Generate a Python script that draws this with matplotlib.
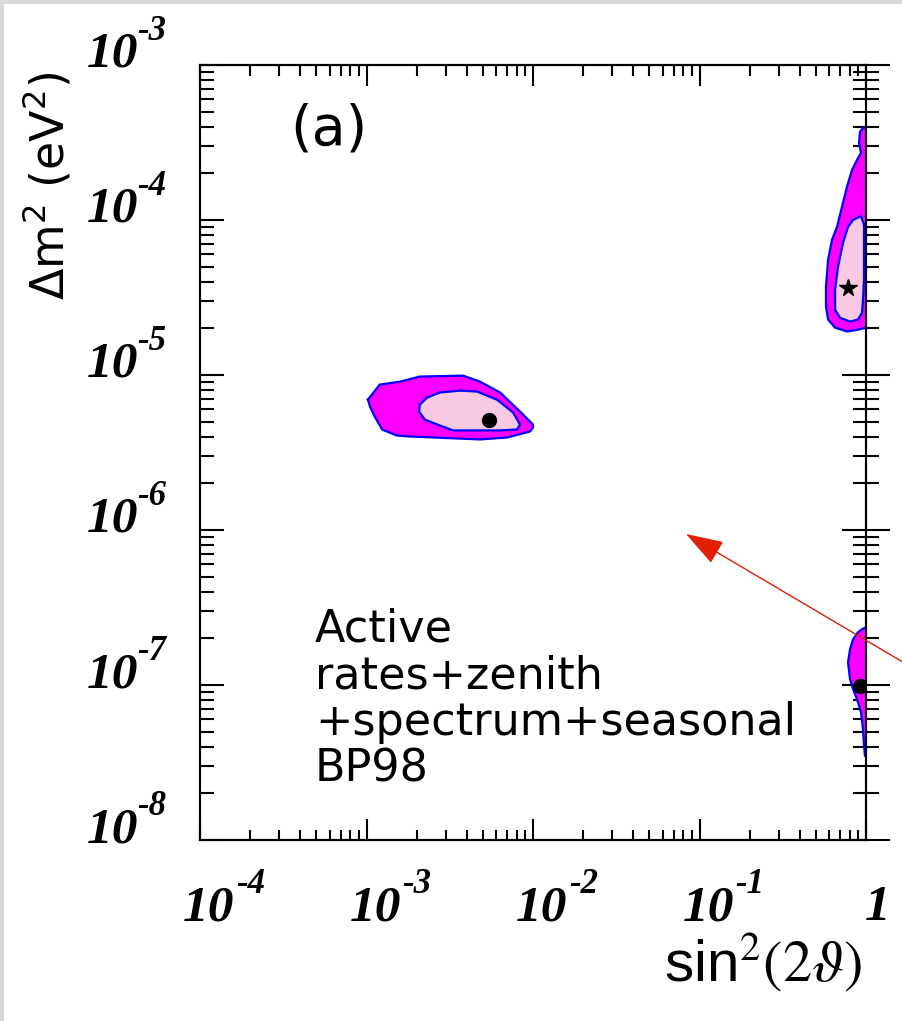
import numpy as np
import matplotlib
matplotlib.use('Agg')
import matplotlib.pyplot as plt
from matplotlib.patches import Rectangle

# ---- data ----
# SMA region: outer (magenta) and inner (pink) contours
sma_outer_x = [1.02e-3, 1.20e-3, 1.59e-3, 2.09e-3, 3.80e-3, 4.81e-3, 6.34e-3, 8.36e-3, 1.00e-2,
               1.00e-2, 9.59e-3, 6.98e-3, 4.81e-3, 1.82e-3, 1.52e-3, 1.24e-3, 1.12e-3, 1.05e-3]
sma_outer_y = [6.93e-6, 8.67e-6, 9.06e-6, 9.77e-6, 9.91e-6, 9.06e-6, 7.71e-6, 5.81e-6, 4.79e-6,
               4.58e-6, 4.32e-6, 3.95e-6, 3.84e-6, 4.01e-6, 4.07e-6, 4.45e-6, 5.40e-6, 6.25e-6]
sma_inner_x = [2.09e-3, 2.31e-3, 2.76e-3, 3.65e-3, 4.61e-3, 6.08e-3, 7.59e-3, 8.36e-3,
               8.02e-3, 6.34e-3, 4.61e-3, 3.31e-3, 2.76e-3, 2.24e-3, 2.07e-3]
sma_inner_y = [6.44e-6, 7.14e-6, 7.71e-6, 7.93e-6, 7.82e-6, 6.93e-6, 5.73e-6, 4.79e-6,
               4.45e-6, 4.39e-6, 4.39e-6, 4.39e-6, 4.72e-6, 5.16e-6, 5.81e-6]
sma_best = (5.45e-3, 5.16e-6)

# LMA region (touches sin^2 = 1)
lma_outer_x = [1.0, 0.959, 0.920, 0.908, 0.933, 0.883, 0.824, 0.769, 0.718, 0.670, 0.625,
               0.592, 0.575, 0.575, 0.592, 0.652, 0.769, 0.895, 1.0]
lma_outer_y = [3.93e-4, 3.93e-4, 3.70e-4, 3.14e-4, 2.71e-4, 2.44e-4, 2.10e-4, 1.64e-4, 1.22e-4,
               9.03e-5, 7.45e-5, 5.55e-5, 3.72e-5, 2.76e-5, 2.28e-5, 2.02e-5, 1.91e-5, 1.96e-5, 2.02e-5]
lma_inner_x = [0.973, 0.933, 0.836, 0.780, 0.728, 0.679, 0.652, 0.652, 0.698, 0.802,
               0.895, 0.946, 0.959, 0.973, 0.973]
lma_inner_y = [9.31e-5, 1.06e-4, 1.00e-4, 9.03e-5, 7.13e-5, 4.99e-5, 3.55e-5, 2.64e-5, 2.34e-5,
               2.21e-5, 2.28e-5, 2.52e-5, 3.06e-5, 4.12e-5, 6.43e-5]
lma_best = (0.78, 3.66e-5)

# LOW region
low_outer_x = [1.0, 0.946, 0.895, 0.836, 0.802, 0.780, 0.802, 0.836, 0.859, 0.895,
               0.933, 0.959, 0.973, 0.986, 1.0]
low_outer_y = [2.36e-7, 2.29e-7, 2.19e-7, 1.97e-7, 1.70e-7, 1.40e-7, 1.09e-7, 9.40e-8, 8.73e-8,
               7.74e-8, 6.68e-8, 5.19e-8, 4.04e-8, 3.48e-8, 3.48e-8]
low_best = (0.92, 9.8e-8)

x_ticks = [1e-4, 1e-3, 1e-2, 1e-1, 1]
x_exps = ['-4', '-3', '-2', '-1', None]
y_ticks = [1e-8, 1e-7, 1e-6, 1e-5, 1e-4, 1e-3]
y_exps = ['-8', '-7', '-6', '-5', '-4', '-3']
info_lines = ['Active', 'rates+zenith', '+spectrum+seasonal', 'BP98']

MAG = '#ff00ff'
PINK = '#f9c8e2'
BLUE = '#0000ff'

W, H = 902, 1021
PT = 100 / 72.0  # px per point

fig = plt.figure(figsize=(W / 100, H / 100), dpi=100)
fig.patch.set_facecolor('#d8d8d8')
fig.add_artist(Rectangle((4 / W, 0), 1, 1 - 4 / H, transform=fig.transFigure,
                         facecolor='white', edgecolor='none', zorder=-10))

rect = [200 / W, (H - 840) / H, 666 / W, 775 / H]
ax2 = fig.add_axes(rect)   # only for right-hand ticks (behind the fills)
ax = fig.add_axes(rect)
ax.set_zorder(2)
ax2.set_zorder(1)
ax.patch.set_visible(False)

for a in (ax, ax2):
    a.set_xscale('log')
    a.set_yscale('log')
    a.set_xlim(1e-4, 1)
    a.set_ylim(1e-8, 1e-3)
    for s in a.spines.values():
        s.set_linewidth(1.5)

ax2.tick_params(axis='x', which='both', bottom=False, top=False, labelbottom=False)
ax2.tick_params(axis='y', which='both', left=False, right=True, labelleft=False,
                direction='inout', width=1.5)
ax2.tick_params(axis='y', which='major', length=48 / PT)
ax2.tick_params(axis='y', which='minor', length=26 / PT)

ax.tick_params(axis='x', which='both', direction='in', top=True, bottom=True,
               labelbottom=False, width=1.5)
ax.tick_params(axis='x', which='major', length=21 / PT)
ax.tick_params(axis='x', which='minor', length=10.5 / PT)
ax.tick_params(axis='y', which='both', direction='in', left=True, right=False,
               labelleft=False, width=1.5)
ax.tick_params(axis='y', which='major', length=24 / PT)
ax.tick_params(axis='y', which='minor', length=14 / PT)

# contours
ax.fill(sma_outer_x, sma_outer_y, color=MAG, lw=0)
ax.plot(sma_outer_x + sma_outer_x[:1], sma_outer_y + sma_outer_y[:1], color=BLUE, lw=1.6)
ax.fill(sma_inner_x, sma_inner_y, color=PINK, lw=0)
ax.plot(sma_inner_x + sma_inner_x[:1], sma_inner_y + sma_inner_y[:1], color=BLUE, lw=1.6)

ax.fill(lma_outer_x, lma_outer_y, color=MAG, lw=0)
ax.plot(lma_outer_x, lma_outer_y, color=BLUE, lw=1.6)
ax.fill(lma_inner_x, lma_inner_y, color=PINK, lw=0)
ax.plot(lma_inner_x + lma_inner_x[:1], lma_inner_y + lma_inner_y[:1], color=BLUE, lw=1.6)

ax.fill(low_outer_x, low_outer_y, color=MAG, lw=0)
ax.plot(low_outer_x, low_outer_y, color=BLUE, lw=1.6)

ax.plot(*sma_best, 'o', color='black', ms=10)
ax.plot(*low_best, 'o', color='black', ms=10)
ax.plot(*lma_best, '*', color='black', ms=13)

# tick labels, ROOT style "10" + exponent
lab = dict(family='Liberation Serif', weight='bold', style='italic')
for t, e in zip(x_ticks, x_exps):
    if e is None:
        ax.annotate('1', (t, 0), xycoords=('data', 'axes fraction'), xytext=(-1 / PT, -80 / PT),
                    textcoords='offset points', ha='left', va='baseline', fontsize=37, **lab)
        continue
    ax.annotate('10', (t, 0), xycoords=('data', 'axes fraction'), xytext=(-17 / PT, -80 / PT),
                textcoords='offset points', ha='left', va='baseline', fontsize=37, **lab)
    ax.annotate(e, (t, 0), xycoords=('data', 'axes fraction'), xytext=(36 / PT, -53 / PT),
                textcoords='offset points', ha='left', va='baseline', fontsize=25, **lab)
for t, e in zip(y_ticks, y_exps):
    ax.annotate('10', (0, t), xycoords=('axes fraction', 'data'), xytext=(-62 / PT, -2 / PT),
                textcoords='offset points', ha='right', va='baseline', fontsize=37, **lab)
    ax.annotate(e, (0, t), xycoords=('axes fraction', 'data'), xytext=(-63 / PT, 25 / PT),
                textcoords='offset points', ha='left', va='baseline', fontsize=25, **lab)

# axis titles
fig.text(48 / W, 1 - 186 / H, r'$\Delta$m$^2$ (eV$^2$)', rotation=90, ha='center', va='center',
         fontsize=33, family='DejaVu Sans', math_fontfamily='dejavusans')
fig.text(862 / W, 1 - 982 / H, r'sin$^2(2\vartheta)$', ha='right', va='baseline',
         fontsize=42, family='Liberation Sans', math_fontfamily='stix')

# panel label and info text
fig.text(290 / W, 1 - 145 / H, '(a)', ha='left', va='baseline', fontsize=40, family='DejaVu Sans')
for i, line in enumerate(info_lines):
    fig.text(315 / W, 1 - (642 + 46.5 * i) / H, line, ha='left', va='baseline',
             fontsize=32, family='DejaVu Sans')

# red arrow
ax.annotate('', xy=(686, H - 534), xycoords='figure pixels',
            xytext=(940, H - 684), textcoords='figure pixels', annotation_clip=False,
            arrowprops=dict(arrowstyle='-|>,head_length=%.1f,head_width=%.1f' % (33 / PT, 11 / PT),
                            color='#e02000', lw=1.0, shrinkA=0, shrinkB=0, mutation_scale=1))

fig.savefig('out.png', dpi=100)
